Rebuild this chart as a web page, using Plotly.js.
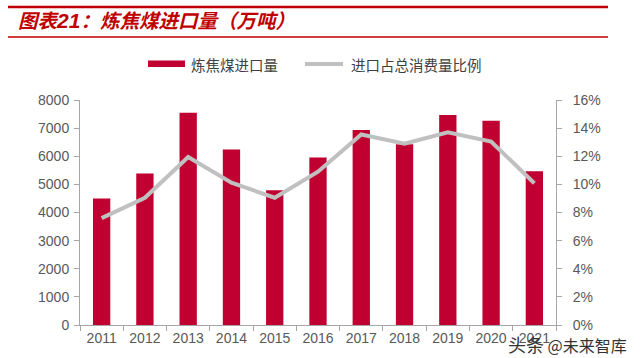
<!DOCTYPE html>
<html><head><meta charset="utf-8">
<script src="https://cdn.plot.ly/plotly-3.0.1.min.js"></script>
<style>html,body{margin:0;padding:0;background:#fff}#c{width:640px;height:358px}</style>
</head><body><div id="c"></div>
<script>
const years = ['2011','2012','2013','2014','2015','2016','2017','2018','2019','2020','2021'];
const importVol = [4500, 5390, 7550, 6240, 4790, 5960, 6930, 6430, 7470, 7260, 5470];
const importShare = [0.0760, 0.0905, 0.1195, 0.1012, 0.0905, 0.1090, 0.1355, 0.1290, 0.1370, 0.1305, 0.1008];
const seriesNames = ['炼焦煤进口量', '进口占总消费量比例'];
const titleParts = ['图表', '21', '：炼焦煤进口量（万吨）'];
const watermarkParts = ['头条', '@未来智库'];

const W = 640, H = 358, L = 80, R = 556, T = 100, B = 325;
const px = x => (x - L) / (R - L);
const py = y => (B - y) / (B - T);
const red = '#c00030', gray = '#c0c0c0', axisGray = '#a6a6a6', txt = '#595959';
const cjk = '"Noto Sans CJK SC", "Liberation Sans", sans-serif';

const traces = [
  {type: 'bar', x: years, y: importVol, name: seriesNames[0], marker: {color: red}, width: 0.4, yaxis: 'y', showlegend: false},
  {type: 'scatter', mode: 'lines', x: years, y: importShare, name: seriesNames[1], line: {color: gray, width: 4}, yaxis: 'y2', showlegend: false}
];

const titleHtml = titleParts[0] + '<span style="font-family:Liberation Sans;font-size:21px">' + titleParts[1] + '</span>' + titleParts[2];
const wmHtml = '<span style="font-size:18px">' + watermarkParts[0] + '</span>\u00a0' + watermarkParts[1];

const layout = {
  width: W, height: H,
  margin: {l: L, r: W - R, t: T, b: H - B},
  paper_bgcolor: '#fff', plot_bgcolor: '#fff',
  font: {family: '"Liberation Sans", Arial, sans-serif', size: 14, color: txt},
  title: {text: titleHtml, xref: 'container', yref: 'container', x: 18 / W, xanchor: 'left', y: 1 - 21 / H, yanchor: 'middle',
          pad: {l: 0, r: 0, t: 0, b: 0},
          font: {family: cjk, size: 19.5, color: '#c00000', weight: 'bold', style: 'italic'}},
  xaxis: {type: 'category', showgrid: false, showline: true, linecolor: axisGray, linewidth: 1,
          ticks: 'outside', tickson: 'boundaries', ticklen: 5, tickcolor: axisGray, tickfont: {size: 14, color: txt}},
  yaxis: {range: [0, 8000], dtick: 1000, showgrid: false, zeroline: false, showline: true, linecolor: axisGray,
          ticks: 'outside', ticklen: 5, tickcolor: axisGray, tickfont: {size: 14, color: txt}, tickformat: 'd', ticklabelstandoff: 2},
  yaxis2: {range: [0, 0.16], dtick: 0.02, tickformat: '.0%', overlaying: 'y', side: 'right', showgrid: false, zeroline: false,
           showline: true, linecolor: axisGray, ticks: 'outside', ticklen: 5, tickcolor: axisGray, tickfont: {size: 14, color: txt},
           ticklabelstandoff: 8},
  shapes: [
    {type: 'line', xref: 'paper', yref: 'paper', x0: px(8), x1: px(608), y0: py(7), y1: py(7), line: {color: '#c00000', width: 2.5}},
    {type: 'line', xref: 'paper', yref: 'paper', x0: px(8), x1: px(608), y0: py(37), y1: py(37), line: {color: '#c00000', width: 1.5}},
    {type: 'rect', xref: 'paper', yref: 'paper', x0: px(148), x1: px(185), y0: py(60.5), y1: py(67), fillcolor: red, line: {width: 0}},
    {type: 'line', xref: 'paper', yref: 'paper', x0: px(305), x1: px(343), y0: py(64), y1: py(64), line: {color: gray, width: 4}}
  ],
  annotations: [
    {xref: 'paper', yref: 'paper', x: px(189), y: py(64), xanchor: 'left', yanchor: 'middle', showarrow: false, text: seriesNames[0],
     font: {family: cjk, size: 14.5, color: '#404040'}},
    {xref: 'paper', yref: 'paper', x: px(349), y: py(64), xanchor: 'left', yanchor: 'middle', showarrow: false, text: seriesNames[1],
     font: {family: cjk, size: 14.5, color: '#404040'}},
    {xref: 'paper', yref: 'paper', x: px(629), y: py(344), xanchor: 'right', yanchor: 'middle', showarrow: false, text: wmHtml,
     font: {family: cjk, size: 16, color: '#333333'}}
  ]
};
Plotly.newPlot('c', traces, layout, {staticPlot: true, displayModeBar: false});
</script></body></html>
